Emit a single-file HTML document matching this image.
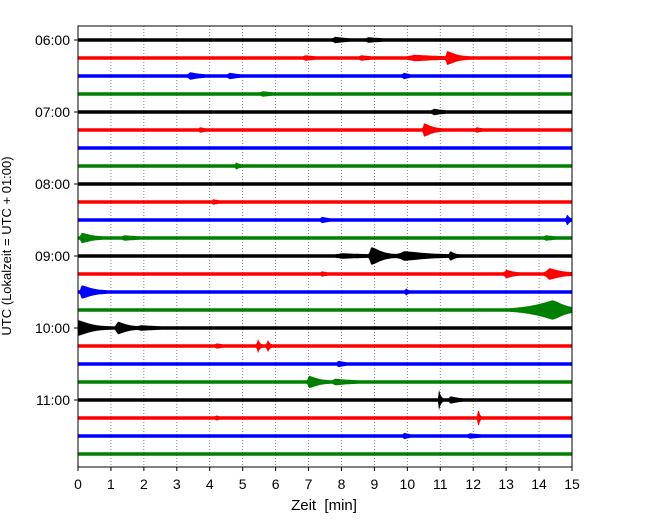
<!DOCTYPE html>
<html><head><meta charset="utf-8"><style>
html,body{margin:0;padding:0;background:#fff}
svg{display:block;font-family:"Liberation Sans","DejaVu Sans",sans-serif}
</style></head><body>
<svg id="chart" width="650" height="520" viewBox="0 0 650 520">
<g id="grid"></g>
<g id="traces"></g>
<rect x="78" y="26" width="494" height="441" fill="none" stroke="#000" stroke-width="1"/>
<g id="xticks"></g>
<g id="yticks"></g>
<text x="324" y="510" text-anchor="middle" font-size="15">Zeit&#160; [min]</text>
<text transform="translate(11,246) rotate(-90)" text-anchor="middle" font-size="13">UTC (Lokalzeit = UTC + 01:00)</text>
</svg>
<script>
const traceCount = 24;
const traceColors = ['#000000','#ff0000','#0000ff','#008000'];
const yTickTraces = [0,4,8,12,16,20];
const yTickLabels = ['06:00','07:00','08:00','09:00','10:00','11:00'];
const xTickLabels = [0,1,2,3,4,5,6,7,8,9,10,11,12,13,14,15];
// events: trace index, onset minute, amplitude, rise (min), decay (min)
const evTrace = [0,0,1,1,1,1,2,2,2,3,4,5,5,5,7,9,10,10,11,11,11,12,12,12,12,13,13,13,14,14,15,16,16,16,17,17,17,18,19,19,20,20,21,21,22,22];
const evMin   = [7.8,8.8,6.9,8.6,10.2,11.2,3.4,4.6,9.9,5.6,10.8,3.7,10.5,12.1,4.8,4.1,7.4,14.85,0.1,1.4,14.2,8.0,8.9,9.9,11.3,7.4,13.0,14.3,0.1,9.95,14.4,0.0,1.2,1.9,4.2,5.45,5.75,7.9,7.0,7.8,10.95,11.3,4.2,12.15,9.9,11.9];
const evAmp   = [1.5,1,1,1,1.5,5,2,1.5,1.5,1,1.5,1,5,1,2,1,1.5,4,3.5,1,1,1,7,3,3,1,2.5,4,5,2,8,6,4.5,1,1,6,5,1.5,4.5,1.5,9,2,1,9,1.5,1];
const evRise  = [0.1,0.1,0.1,0.1,0.3,0.05,0.1,0.1,0.1,0.1,0.1,0.05,0.05,0.05,0.03,0.05,0.05,0.05,0.05,0.1,0.1,0.3,0.1,0.3,0.05,0.05,0.1,0.2,0.05,0.03,1.5,0.05,0.1,0.1,0.05,0.03,0.03,0.05,0.05,0.1,0.02,0.05,0.03,0.02,0.05,0.1];
const evDecay = [0.25,0.3,0.2,0.2,0.6,0.3,0.25,0.2,0.12,0.2,0.2,0.12,0.25,0.12,0.08,0.12,0.15,0.06,0.3,0.3,0.2,0.6,0.35,0.7,0.12,0.12,0.2,0.35,0.35,0.06,0.4,0.4,0.3,0.4,0.12,0.06,0.06,0.15,0.3,0.4,0.06,0.2,0.06,0.04,0.12,0.2];

const NS='http://www.w3.org/2000/svg';
const x0=78,x1=572,y0=40,dy=18;
const xs=m=>x0+(x1-x0)*m/15;
const ys=i=>y0+i*dy;

const grid=document.getElementById('grid');
xTickLabels.forEach(v=>{
  const l=document.createElementNS(NS,'line');
  l.setAttribute('x1',xs(v));l.setAttribute('x2',xs(v));l.setAttribute('y1',26);l.setAttribute('y2',467);
  l.setAttribute('stroke','#666');l.setAttribute('stroke-width','0.8');l.setAttribute('stroke-dasharray','1,2');
  
  
  grid.appendChild(l);
});

const tg=document.getElementById('traces');
for(let i=0;i<traceCount;i++){
  const top=[],bot=[];
  for(let px=x0;px<=x1;px+=1){
    const m=(px-x0)*15/(x1-x0);
    let a=1.7;
    for(let k=0;k<evTrace.length;k++){
      if(evTrace[k]!==i)continue;
      const dt=m-evMin[k];
      let s=0;
      if(dt>=-evRise[k]&&dt<0){const r=(dt+evRise[k])/evRise[k];s=r*r;}
      else if(dt>=0)s=Math.exp(-Math.pow(dt/evDecay[k],1.5));
      a+=evAmp[k]*s;
    }
    top.push(px+','+(ys(i)-a).toFixed(1));
    bot.unshift(px+','+(ys(i)+a).toFixed(1));
  }
  const p=document.createElementNS(NS,'polygon');
  p.setAttribute('points',top.concat(bot).join(' '));
  p.setAttribute('fill',traceColors[i%4]);
  
  
  tg.appendChild(p);
}

const xt=document.getElementById('xticks');
xTickLabels.forEach(v=>{
  const l=document.createElementNS(NS,'line');
  l.setAttribute('x1',xs(v));l.setAttribute('x2',xs(v));l.setAttribute('y1',467);l.setAttribute('y2',471);l.setAttribute('stroke','#000');
  
  
  xt.appendChild(l);
  const t=document.createElementNS(NS,'text');
  t.setAttribute('x',xs(v));t.setAttribute('y',489);t.setAttribute('text-anchor','middle');t.setAttribute('font-size','14');
  t.textContent=v;
  
  
  xt.appendChild(t);
});
const yt=document.getElementById('yticks');
yTickTraces.forEach((ti,j)=>{
  const l=document.createElementNS(NS,'line');
  l.setAttribute('x1',74);l.setAttribute('x2',78);l.setAttribute('y1',ys(ti));l.setAttribute('y2',ys(ti));l.setAttribute('stroke','#000');
  
  
  yt.appendChild(l);
  const t=document.createElementNS(NS,'text');
  t.setAttribute('x',70);t.setAttribute('y',ys(ti)+5);t.setAttribute('text-anchor','end');t.setAttribute('font-size','14');
  t.textContent=yTickLabels[j];
  
  
  yt.appendChild(t);
});
</script>
</body></html>
